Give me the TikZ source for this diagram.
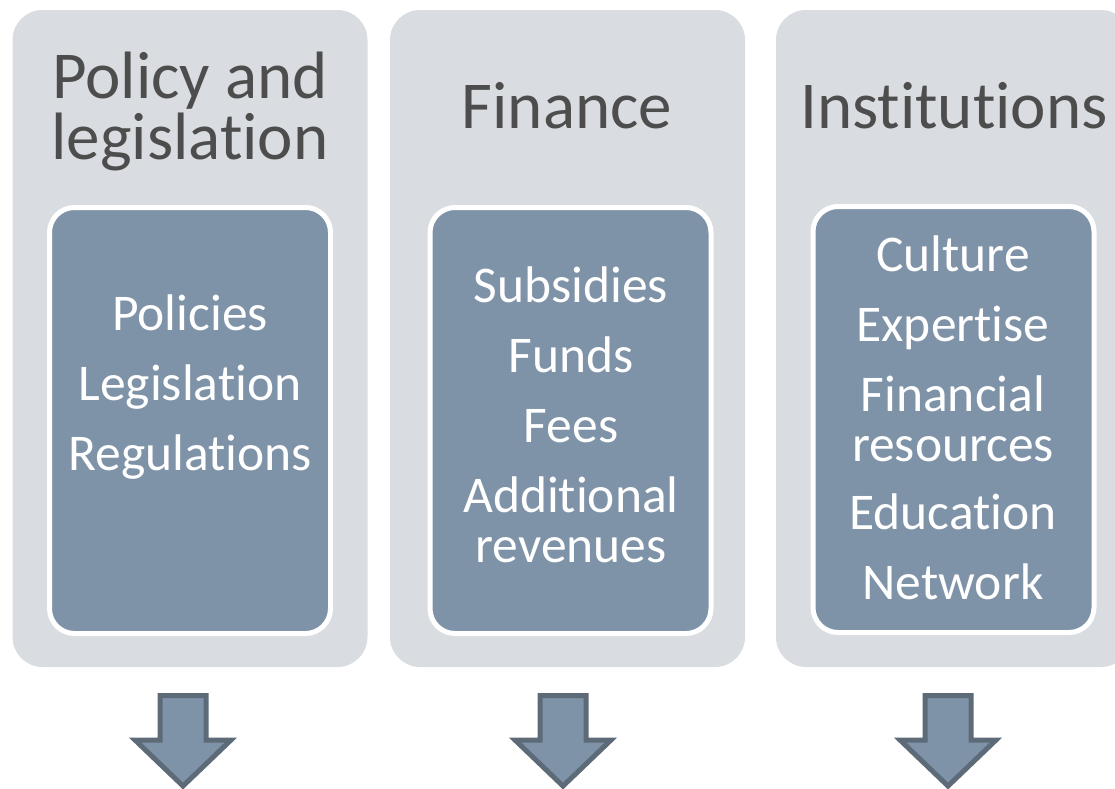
\documentclass[tikz,border=0pt]{standalone}
\usepackage{fontspec}
\setmainfont{Carlito}[Ligatures=NoCommon]
\usetikzlibrary{calc}
\definecolor{panelgray}{HTML}{D9DCE0}
\definecolor{itemblue}{HTML}{7F93A8}
\definecolor{titlegray}{HTML}{4D4D4D}
\definecolor{arrowedge}{HTML}{5D6B79}
\tikzset{
  panel/.style={fill=panelgray,rounded corners=30pt,minimum width=355pt,minimum height=657pt,inner sep=0pt},
  itembox/.style={fill=itemblue,draw=white,line width=5pt,rounded corners=25pt,minimum width=281pt,minimum height=426pt,inner sep=0pt},
  title/.style={text=titlegray,font=\fontsize{67}{61}\selectfont,align=center,inner sep=0pt,anchor=base},
  items/.style={text=white,font=\fontsize{51.5}{50}\selectfont,align=center,inner sep=0pt,anchor=base},
  downarrow/.style={fill=itemblue,draw=arrowedge,line width=5pt,line join=miter}
}
\begin{document}
\begin{tikzpicture}[x=1pt,y=-1pt]
    \clip (0,0) rectangle (1115,788);
    \draw
    (190,338.5) node[panel](P1){}
    (567.5,338.5) node[panel](P2){}
    (953.5,338.5) node[panel](P3){}
    (190,420.5) node[itembox](B1){}
    (570.5,420.5) node[itembox](B2){}
    (953.5,419.5) node[itembox](B3){};
    % base anchor sits on the last line
    \draw
    (190,159) node[title](T1){Policy and\\legislation}
    (567,128) node[title](T2){Finance}
    (954,128) node[title](T3){Institutions}
    (190,470) node[items](L1){Policies\\[20pt]Legislation\\[20pt]Regulations}
    (571,562) node[items](L2){Subsidies\\[20pt]Funds\\[20pt]Fees\\[20pt]Additional\\revenues}
    (953,599) node[items](L3){Culture\\[20pt]Expertise\\[20pt]Financial\\resources\\[18pt]Education\\[20pt]Network};
    % block arrows under the panels
    \foreach \ax in {183,563,948}
      \draw[downarrow] (\ax-23,695.5) -- (\ax+23,695.5) -- (\ax+23,740) -- (\ax+48,740)
        -- (\ax,786) -- (\ax-48,740) -- (\ax-23,740) -- cycle;
\end{tikzpicture}
\end{document}
